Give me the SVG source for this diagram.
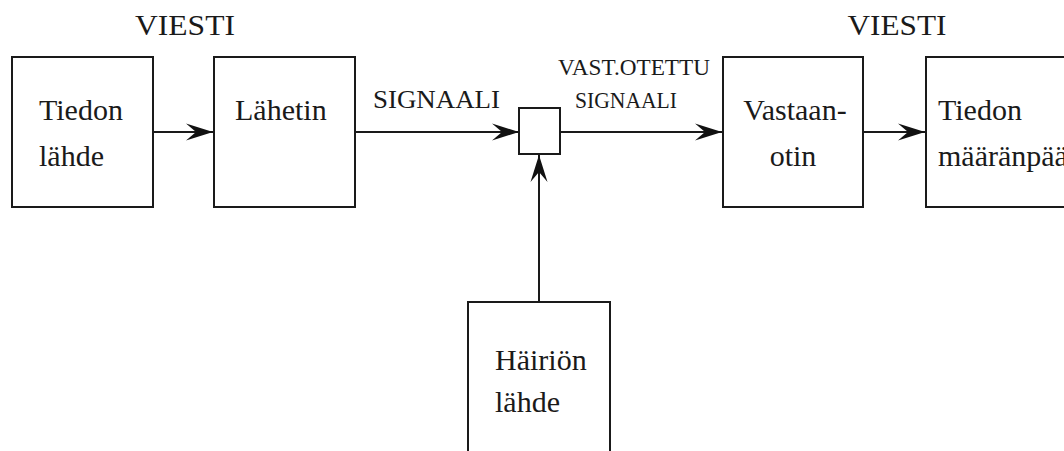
<svg xmlns="http://www.w3.org/2000/svg" width="1064" height="451" viewBox="0 0 1064 451">
<style>
.box{fill:#fff;stroke:#1a1a1a;stroke-width:2}
.lbl{font-family:"Liberation Serif","Times New Roman",serif;font-size:30px;fill:#1a1a1a}
.sig{font-family:"Liberation Serif","Times New Roman",serif;font-size:23px;fill:#1a1a1a}
.sig1{font-family:"Liberation Serif","Times New Roman",serif;font-size:25px;fill:#1a1a1a}
.big{font-family:"Liberation Serif","Times New Roman",serif;font-size:29px;fill:#1a1a1a}
.conn{stroke:#1a1a1a;stroke-width:2;fill:none}
</style>
<defs>
<marker id="ah" markerUnits="userSpaceOnUse" viewBox="-27 -9 28 18" refX="0" refY="0" markerWidth="28" markerHeight="18" orient="auto">
<path d="M0,0 L-27,-8.5 L-17,0 L-27,8.5 Z" fill="#111"/>
</marker>
</defs>
<rect width="1064" height="451" fill="#fff"/>
<text class="big" x="185" y="35" text-anchor="middle" textLength="100" lengthAdjust="spacingAndGlyphs">VIESTI</text>
<text class="big" x="897" y="35" text-anchor="middle" textLength="99" lengthAdjust="spacingAndGlyphs">VIESTI</text>
<g id="connectors">
<line class="conn" x1="153" y1="132" x2="213" y2="132" marker-end="url(#ah)"/>
<line class="conn" x1="355" y1="132" x2="519" y2="132" marker-end="url(#ah)"/>
<line class="conn" x1="560" y1="132" x2="722" y2="132" marker-end="url(#ah)"/>
<line class="conn" x1="863" y1="132" x2="925" y2="132" marker-end="url(#ah)"/>
<line class="conn" x1="539" y1="302" x2="539" y2="155" marker-end="url(#ah)"/>
<text class="sig1" x="373" y="108" textLength="127" lengthAdjust="spacingAndGlyphs">SIGNAALI</text>
<text class="sig" x="558" y="75" textLength="152" lengthAdjust="spacingAndGlyphs">VAST.OTETTU</text>
<text class="sig" x="575" y="108" textLength="102" lengthAdjust="spacingAndGlyphs">SIGNAALI</text>
</g>
<g id="tiedon-lahde">
<rect class="box" x="12" y="57" width="141" height="150"/>
<text class="lbl" x="39" y="120">Tiedon</text>
<text class="lbl" x="39" y="166">lähde</text>
</g>
<g id="lahetin">
<rect class="box" x="214" y="57" width="141" height="150"/>
<text class="lbl" x="235" y="120">Lähetin</text>
</g>
<g id="summain">
<rect class="box" x="519" y="108" width="41" height="46"/>
</g>
<g id="vastaanotin">
<rect class="box" x="723" y="57" width="140" height="150"/>
<text class="lbl" x="795" y="120" text-anchor="middle">Vastaan-</text>
<text class="lbl" x="793" y="166" text-anchor="middle">otin</text>
</g>
<g id="tiedon-maaranpaa">
<rect class="box" x="926" y="57" width="150" height="150"/>
<text class="lbl" x="938" y="120">Tiedon</text>
<text class="lbl" x="938" y="166">määränpää</text>
</g>
<g id="hairion-lahde">
<rect class="box" x="468" y="302" width="142" height="160"/>
<text class="lbl" x="495" y="370">Häiriön</text>
<text class="lbl" x="495" y="412">lähde</text>
</g>
</svg>
